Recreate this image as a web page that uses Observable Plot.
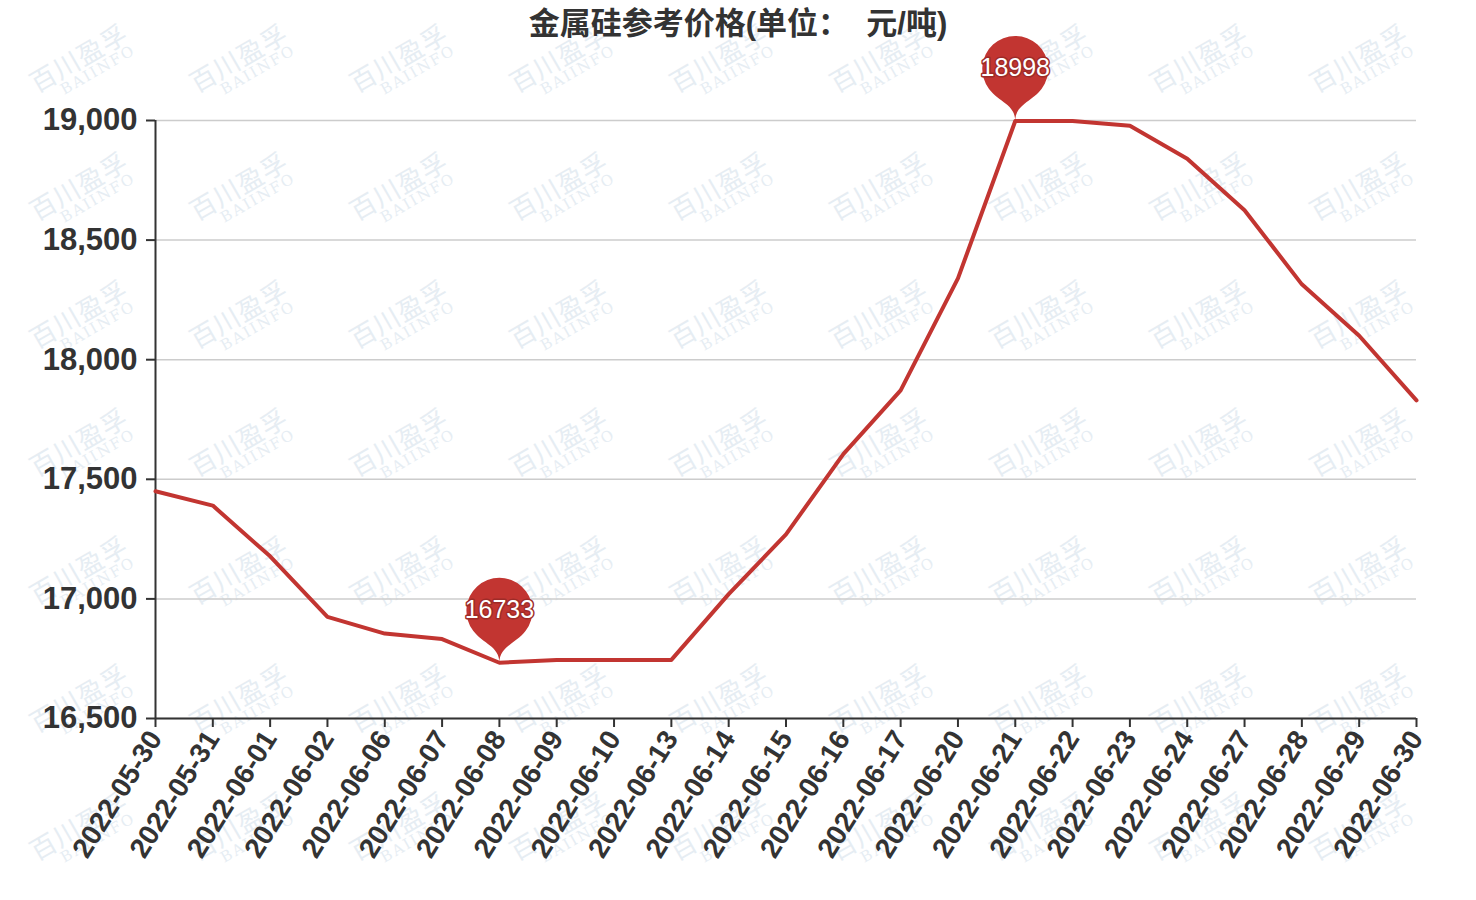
<!DOCTYPE html>
<html><head><meta charset="utf-8">
<script src="https://cdn.jsdelivr.net/npm/d3@7"></script>
<script src="https://cdn.jsdelivr.net/npm/@observablehq/plot@0.6"></script>
<style>
body{margin:0;background:#fff;}
#wrap{position:relative;width:1476px;height:900px;overflow:hidden;}
#wm{position:absolute;left:0;top:0;width:1476px;height:900px;z-index:0;pointer-events:none}
.wmk{position:absolute;transform:translate(-50%,-50%) rotate(-30deg);color:#e6edf3;text-align:center;white-space:nowrap;line-height:1}
.wmk .cn{font-family:"Noto Sans CJK SC";font-size:26px;letter-spacing:1px}
.wmk .en{font-family:"DejaVu Serif","Liberation Serif",serif;font-size:15px;letter-spacing:2px;margin-top:1px;margin-left:22px}
#title{position:absolute;top:8px;left:0;width:1476px;text-align:center;font:bold 31px/31px "Liberation Sans","Noto Sans CJK SC";color:#333;z-index:2;white-space:pre}
#chart{position:absolute;left:0;top:0;z-index:1}
</style></head><body>
<div id="wrap"><div id="wm"></div><div id="title"></div><div id="chart"></div></div>
<script>
const titleText = "金属硅参考价格(单位：  元/吨)";
const dates = ["2022-05-30","2022-05-31","2022-06-01","2022-06-02","2022-06-06","2022-06-07","2022-06-08","2022-06-09","2022-06-10","2022-06-13","2022-06-14","2022-06-15","2022-06-16","2022-06-17","2022-06-20","2022-06-21","2022-06-22","2022-06-23","2022-06-24","2022-06-27","2022-06-28","2022-06-29","2022-06-30"];
const prices = [17450,17390,17178,16925,16855,16832,16733,16745,16745,16745,17020,17270,17605,17872,18340,18998,18998,18978,18840,18625,18315,18100,17830];
const yTicks = [16500,17000,17500,18000,18500,19000];
const watermarkCn = "百川盈孚";
const watermarkEn = "BAIINFO";

document.getElementById("title").textContent = titleText;

// watermark grid (decoration)
const wm = document.getElementById("wm");
for (let j = 0; j < 7; j++) {
  for (let i = 0; i < 9; i++) {
    const d = document.createElement("div");
    d.className = "wmk";
    d.style.left = (82 + 160 * i) + "px";
    d.style.top = (64 + 128 * j) + "px";
    d.innerHTML = `<div class="cn">${watermarkCn}</div><div class="en">${watermarkEn}</div>`;
    wm.appendChild(d);
  }
}

const data = dates.map((d, i) => ({date: d, price: prices[i]}));
const extremes = [data[d3.maxIndex(prices)], data[d3.minIndex(prices)]];

const pin = {
  draw(ctx) {
    const r = 33, c = 52, below = 20;
    const angle = Math.asin(below / r);
    const dx = Math.cos(angle) * r, dy = below;
    const cy = -c;
    const tanX = Math.sin(angle), tanY = Math.cos(angle);
    const cp1 = r * 0.5, cp2 = r * 0.5;
    ctx.moveTo(-dx, cy + dy);
    ctx.arc(0, cy, r, Math.PI - angle, Math.PI * 2 + angle);
    ctx.bezierCurveTo(dx - tanX * cp1, cy + dy + tanY * cp1, 0, -cp2, 0, 0);
    ctx.bezierCurveTo(0, -cp2, -dx + tanX * cp1, cy + dy + tanY * cp1, -dx, cy + dy);
    ctx.closePath();
  }
};

const red = "#c23531";
const chart = Plot.plot({
  width: 1476,
  height: 900,
  marginLeft: 155,
  marginRight: 60,
  marginTop: 120,
  marginBottom: 182,
  style: {background: "transparent", color: "#333", fontFamily: "'Liberation Sans', Arial, sans-serif", fontWeight: "bold"},
  x: {type: "point", domain: dates, padding: 0, round: false},
  y: {domain: [yTicks[0], yTicks[yTicks.length - 1]]},
  marks: [
    Plot.gridY(yTicks, {stroke: "#cccccc", strokeOpacity: 1, strokeWidth: 1.5}),
    Plot.axisY(yTicks, {tickSize: 9, tickPadding: 9, fontSize: 31, tickFormat: d3.format(","), strokeWidth: 2, label: null}),
    Plot.axisX({tickSize: 9, tickPadding: 6, fontSize: 28, tickRotate: -58, strokeWidth: 2, label: null}),
    Plot.ruleY([yTicks[0]], {stroke: "#333", strokeWidth: 2}),
    Plot.ruleX([dates[0]], {y1: yTicks[0], y2: yTicks[yTicks.length - 1], stroke: "#333", strokeWidth: 2}),
    Plot.lineY(data, {x: "date", y: "price", stroke: red, strokeWidth: 4}),
    Plot.dot(extremes, {x: "date", y: "price", symbol: pin, r: 10, fill: red, stroke: "none"}),
    Plot.text(extremes, {x: "date", y: "price", text: d => String(d.price), dy: -53, fill: "white", stroke: "#9e2b28", strokeWidth: 3, fontSize: 25, fontWeight: "normal"})
  ]
});
document.getElementById("chart").appendChild(chart);
</script>
</body></html>
